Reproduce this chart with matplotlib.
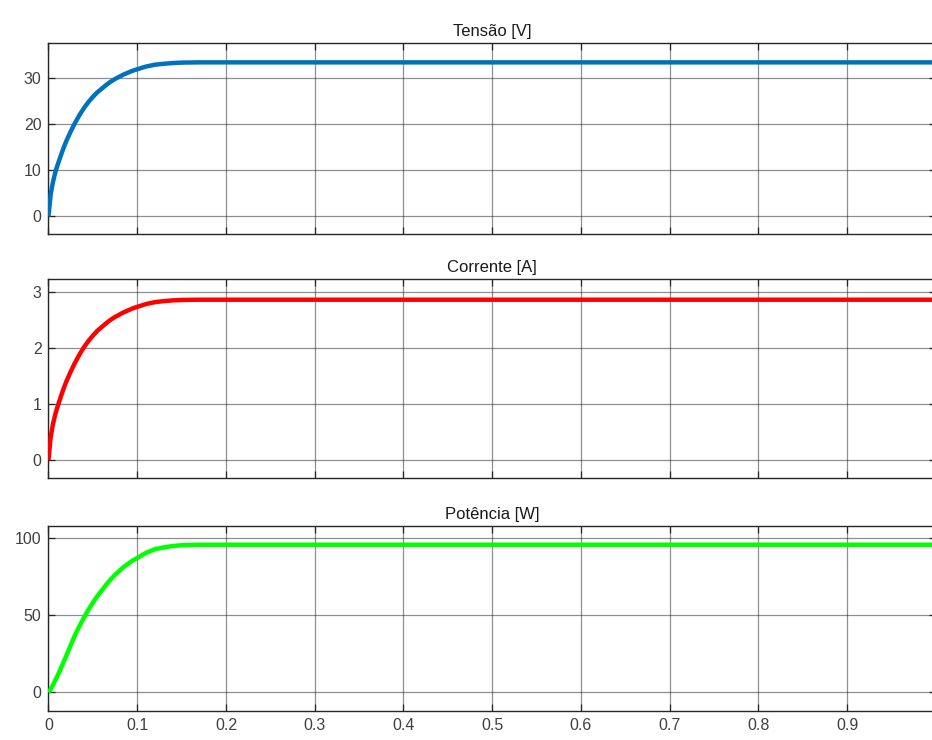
import matplotlib
matplotlib.use("Agg")
import matplotlib.pyplot as plt

plt.rcParams['font.family'] = ['Liberation Sans', 'DejaVu Sans']

# Simulation time [s]
time = [0, 0.0025, 0.005, 0.0075, 0.01, 0.0125, 0.015, 0.0175, 0.02, 0.025,
        0.03, 0.035, 0.04, 0.045, 0.05, 0.055, 0.06, 0.065, 0.07, 0.075,
        0.08, 0.085, 0.09, 0.095, 0.10, 0.11, 0.12, 0.13, 0.14, 0.15,
        0.17, 0.2, 0.3, 0.5, 0.7, 1.0]

# Output voltage [V]
voltage = [0, 4.8, 7.4, 9.4, 11.0, 12.4, 13.8, 15.1, 16.3, 18.4,
           20.3, 22.0, 23.5, 24.8, 25.9, 26.9, 27.7, 28.5, 29.2, 29.8,
           30.3, 30.8, 31.2, 31.6, 31.9, 32.5, 32.9, 33.1, 33.25, 33.35,
           33.4, 33.4, 33.4, 33.4, 33.4, 33.4]

# Output current [A]
current = [0, 0.412, 0.636, 0.808, 0.945, 1.065, 1.186, 1.297, 1.400, 1.581,
           1.744, 1.890, 2.019, 2.131, 2.225, 2.311, 2.380, 2.448, 2.509, 2.560,
           2.603, 2.646, 2.680, 2.715, 2.741, 2.792, 2.826, 2.844, 2.857, 2.865,
           2.869, 2.869, 2.869, 2.869, 2.869, 2.869]

# Output power [W]
power = [0, 1.9, 4.6, 7.6, 10.5, 13.6, 16.9, 20.3, 23.6, 30.5,
         37.3, 43.0, 48.5, 53.6, 58.2, 62.4, 66.1, 69.8, 73.3, 76.3,
         78.9, 81.5, 83.6, 85.6, 87.2, 90.6, 92.9, 94.1, 95.0, 95.5,
         95.8, 95.8, 95.8, 95.8, 95.8, 95.8]

titles = ['Tensão [V]', 'Corrente [A]', 'Potência [W]']
x_ticks = [0, 0.1, 0.2, 0.3, 0.4, 0.5, 0.6, 0.7, 0.8, 0.9]
x_tick_labels = ['0', '0.1', '0.2', '0.3', '0.4', '0.5', '0.6', '0.7', '0.8', '0.9']
y_ticks = [[0, 10, 20, 30], [0, 1, 2, 3], [0, 50, 100]]
y_limits = [(-3.8, 37.6), (-0.32, 3.24), (-12.1, 108)]

series = [voltage, current, power]
colors = ['#0072BD', '#FF0000', '#00FF00']

fig = plt.figure(figsize=(9.32, 7.40), dpi=100)

left = 0.052
width = 0.9523
boxes = [(0.6838, 0.2581), (0.3541, 0.2689), (0.0392, 0.2500)]

axis_color = '#262626'
text_color = '#404040'

for i, (bottom, height) in enumerate(boxes):
    ax = fig.add_axes([left, bottom, width, height])
    ax.plot(time, series[i], color=colors[i], lw=3.2, solid_capstyle='butt',
            solid_joinstyle='round', zorder=3)
    ax.set_xlim(0, 1.0)
    ax.set_ylim(*y_limits[i])
    ax.set_xticks(x_ticks)
    ax.set_yticks(y_ticks[i])
    if i == 2:
        ax.set_xticklabels(x_tick_labels)
    else:
        ax.set_xticklabels([])
    ax.grid(True, color='#202020', alpha=0.5, lw=0.9)
    ax.set_axisbelow(True)
    ax.tick_params(direction='in', length=5, width=0.9, top=True, right=True,
                   colors=axis_color, labelcolor=text_color, labelsize=11.5,
                   pad=5)
    for sp in ax.spines.values():
        sp.set_color(axis_color)
        sp.set_linewidth(1.0)
    ax.set_title(titles[i], fontsize=12, color='#1a1a1a', pad=5)

fig.savefig('out.png', dpi=100)
